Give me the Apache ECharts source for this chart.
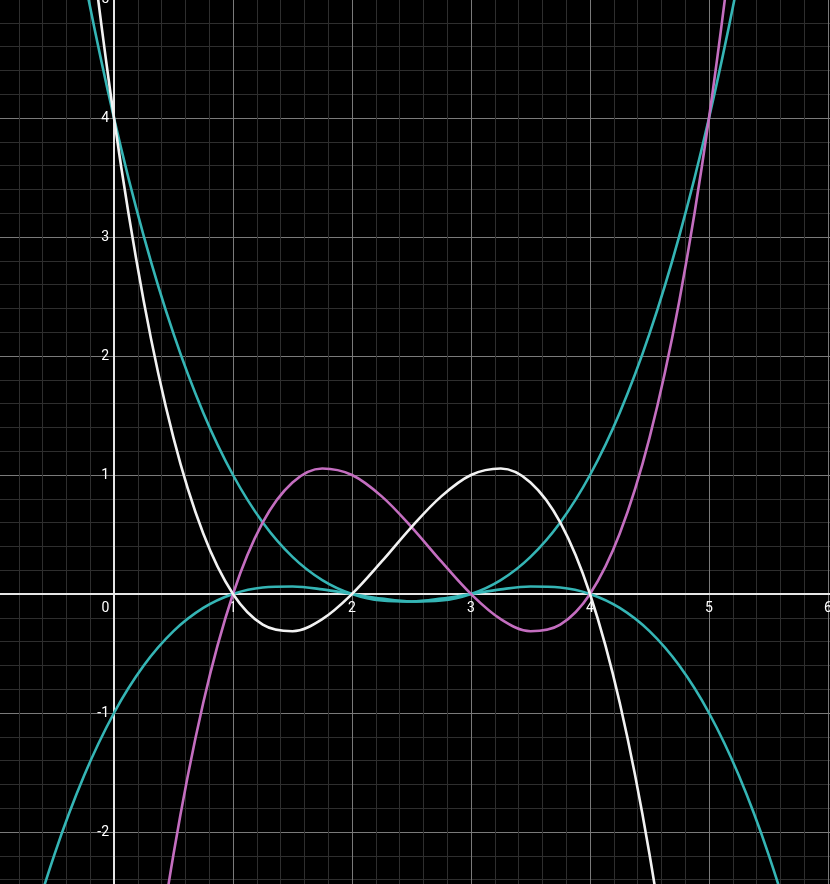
<!DOCTYPE html>
<html>
<head>
<meta charset="utf-8">
<script src="https://cdn.jsdelivr.net/npm/echarts@6/dist/echarts.min.js"></script>
<style>
html,body{margin:0;padding:0;background:#000;}
#chart{width:830px;height:884px;}
</style>
</head>
<body>
<div id="chart"></div>
<script>
// sample x positions
const xValues = [-1,-0.75,-0.5,-0.25,0,0.25,0.5,0.75,1,1.25,1.5,1.75,2,2.25,2.5,2.75,3,3.25,3.5,3.75,4,4.25,4.5,4.75,5,5.25,5.5,5.75,6];
// teal curve through (0,4),(1,1),(2,0),(3,0),(4,0),(5,-1)
const tealA = [10,8.164,6.5625,5.18,4,3.008,2.1875,1.5234,1,0.6016,0.3125,0.1172,0,-0.0547,-0.0625,-0.0391,0,0.0391,0.0625,0.0547,0,-0.1172,-0.3125,-0.6016,-1,-1.5234,-2.1875,-3.008,-4];
// teal curve through (0,-1),(1,0),(2,0),(3,0),(4,1),(5,4)
const tealB = [-4,-3.008,-2.1875,-1.5234,-1,-0.6016,-0.3125,-0.1172,0,0.0547,0.0625,0.0391,0,-0.0391,-0.0625,-0.0547,0,0.1172,0.3125,0.6016,1,1.5234,2.1875,3.008,4,5.18,6.5625,8.164,10];
// magenta curve
const magenta = [-20,-15.586,-11.8125,-8.633,-6,-3.8672,-2.1875,-0.9141,0,0.6016,0.9375,1.0547,1,0.8203,0.5625,0.2734,0,-0.2109,-0.3125,-0.2578,0,0.5078,1.3125,2.4609,4,5.977,8.4375,11.43,15];
// white curve
const white = [15,11.43,8.4375,5.977,4,2.4609,1.3125,0.5078,0,-0.2578,-0.3125,-0.2109,0,0.2734,0.5625,0.8203,1,1.0547,0.9375,0.6016,0,-0.9141,-2.1875,-3.8672,-6,-8.633,-11.8125,-15.586,-20];

const xTickLabels = ['', '0', '1', '2', '3', '4', '5', '6', ''];   // x = -1 .. 7
const yTickLabels = ['', '-2', '-1', '', '1', '2', '3', '4', '5', '']; // y = -3 .. 6

function pairs(ys){ return xValues.map((x,i)=>[x, ys[i]]); }

const chart = echarts.init(document.getElementById('chart'), null, {renderer:'canvas'});
const labelFont = {color:'#ffffff', fontSize:14, fontFamily:'Roboto, Arial, sans-serif'};

function lineSeries(name, ys, color){
  return {
    name, type:'line', data: pairs(ys), showSymbol:false, smooth:0.35,
    clip:true, lineStyle:{color, width:2.6}, itemStyle:{color},
    emphasis:{disabled:true}, silent:true
  };
}

chart.setOption({
  backgroundColor:'#000000',
  animation:false,
  grid:{left:-5, right:-117, top:-120, bottom:-67, containLabel:false, outerBoundsMode:'none'},
  xAxis:{
    type:'value', min:-1, max:7, interval:1, position:'bottom', offset:-357,
    axisLine:{show:true, onZero:false, lineStyle:{color:'#e6e6e6', width:2}},
    axisTick:{show:false},
    axisLabel:{
      show:true, ...labelFont, margin:7,
      formatter:function(v){
        const t = xTickLabels[Math.round(v)+1] || '';
        if (t === '0') return '{o|0}';
        return t;
      },
      rich:{o:{...labelFont, padding:[0,17,0,0]}}
    },
    splitLine:{show:true, lineStyle:{color:'#7a7a7a', width:1}},
    minorTick:{show:false, splitNumber:5},
    minorSplitLine:{show:true, lineStyle:{color:'#2e2e2e', width:1}}
  },
  yAxis:{
    type:'value', min:-3, max:6, interval:1, position:'left', offset:-119,
    axisLine:{show:true, onZero:false, lineStyle:{color:'#e6e6e6', width:2}},
    axisTick:{show:false},
    axisLabel:{
      show:true, ...labelFont, margin:5,
      formatter:function(v){ return yTickLabels[Math.round(v)+3] || ''; }
    },
    splitLine:{show:true, lineStyle:{color:'#7a7a7a', width:1}},
    minorTick:{show:false, splitNumber:5},
    minorSplitLine:{show:true, lineStyle:{color:'#2e2e2e', width:1}}
  },
  series:[
    lineSeries('tealA', tealA, '#35b5b5'),
    lineSeries('tealB', tealB, '#35b5b5'),
    lineSeries('magenta', magenta, '#c46ec0'),
    lineSeries('white', white, '#f2f2f2')
  ]
});
</script>
</body>
</html>
